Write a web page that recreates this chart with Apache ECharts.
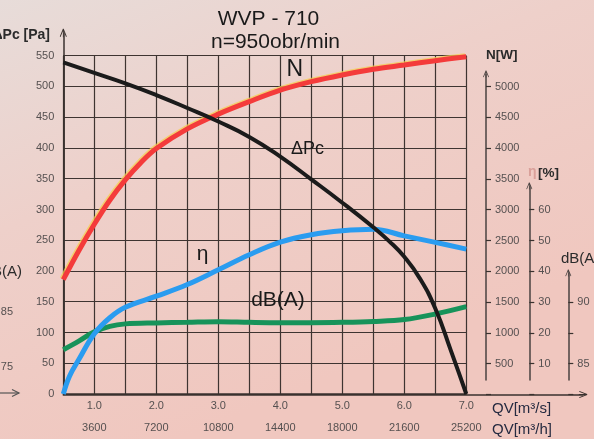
<!DOCTYPE html>
<html>
<head>
<meta charset="utf-8">
<script src="https://cdn.jsdelivr.net/npm/echarts@6/dist/echarts.min.js"></script>
<style>html,body{margin:0;padding:0;}#c{width:594px;height:439px;}</style>
</head>
<body>
<div id="c"></div>
<script>
// ---- data ----
const flowTicks = [1, 2, 3, 4, 5, 6, 7];
const flowLabels = ['1.0', '2.0', '3.0', '4.0', '5.0', '6.0', '7.0'];
const flowHourLabels = ['3600', '7200', '10800', '14400', '18000', '21600', '25200'];

const flowPc = [0.5, 1, 1.5, 2, 2.5, 3, 3.5, 4, 4.5, 5, 5.5, 5.75, 6, 6.25, 6.5, 6.75, 7];
const pressure = [539, 522, 505, 486, 465, 443, 418, 386, 349, 311, 271, 249, 223, 188, 139, 71, 0];

const flowN = [0.5, 0.75, 1, 1.25, 1.5, 1.75, 2, 2.5, 3, 3.5, 4, 4.5, 5, 5.5, 6, 6.5, 7];
const power = [1860, 2330, 2760, 3150, 3480, 3760, 3990, 4310, 4550, 4753, 4940, 5078, 5187, 5279, 5349, 5419, 5484];

const flowEta = [0.5, 0.6, 0.75, 1, 1.25, 1.5, 2, 2.5, 3, 3.5, 4, 4.5, 5, 5.5, 6, 6.5, 7];
const efficiency = [0, 5.8, 11.2, 19.6, 24.8, 28.2, 31.8, 35.6, 40.4, 45.3, 49.4, 51.8, 53.1, 53.6, 51.4, 49.3, 47.1];

const flowDb = [0.5, 0.75, 1, 1.25, 1.5, 2, 2.5, 3, 3.5, 4, 4.5, 5, 5.5, 6, 6.5, 7];
const noise = [86.1, 86.8, 87.55, 88.0, 88.2, 88.28, 88.33, 88.38, 88.33, 88.3, 88.3, 88.33, 88.4, 88.55, 89.0, 89.6];

// ---- chart ----
const chart = echarts.init(document.getElementById('c'), null, {renderer: 'canvas'});
const FONT = 'Liberation Sans, Arial, sans-serif';
const AX = '#3a322f';
const GRIDC = '#3e3431';
const LBL = '#555050';
const chevron = 'path://M4.4,0L5.6,0L10,11L8.9,11.6L5.6,3.6L5.6,12L4.4,12L4.4,3.6L1.1,11.6L0,11Z';

const zip = (xs, ys) => xs.map((x, i) => [x, ys[i]]);

function g(o) { return Object.assign({containLabel: false, show: false}, o); }
const quiet = {axisLine: {show: false, onZero: false}, axisTick: {show: false}, axisLabel: {show: false}, splitLine: {show: false}};
const hiddenAxis = (gi, min, max, extra) => Object.assign({type: 'value', gridIndex: gi, min: min, max: max}, quiet, extra || {});

const grids = [
  g({left: 63.3, right: 127.7, top: 55.7, bottom: 44.5}),            // 0 main plot
  g({left: 63.3, right: 127.7, top: 33, bottom: 44.5}),              // 1 Pa arrow
  g({left: 63.3, right: 11, top: 55.7, bottom: 44.5}),               // 2 x arrow
  g({left: 0, right: 108, top: 86.5, bottom: 44.5}),                 // 3 N ticks
  g({left: 0, right: 108, top: 74, bottom: 59}),                     // 4 N line
  g({left: 0, right: 64.7, top: 209.7, bottom: 44.5}),               // 5 eta ticks
  g({left: 0, right: 64.7, top: 186, bottom: 59}),                   // 6 eta line
  g({left: 0, right: 25.7, top: 302, bottom: 44.5}),                 // 7 dB ticks
  g({left: 0, right: 25.7, top: 273, bottom: 59})                    // 8 dB line
];

const xAxes = [
  {
    type: 'value', gridIndex: 0, min: 0.5, max: 7, interval: 0.5,
    axisLine: {show: true, onZero: false, lineStyle: {color: AX, width: 1.5}},
    axisTick: {show: false},
    splitLine: {show: true, lineStyle: {color: GRIDC, width: 1.2}},
    axisLabel: {
      margin: 1, color: LBL, fontSize: 11, lineHeight: 22, fontFamily: FONT,
      formatter: function (v) {
        const i = flowTicks.indexOf(v);
        return i < 0 ? '' : flowLabels[i] + '\n' + flowHourLabels[i];
      }
    }
  },
  hiddenAxis(1, 0, 1),
  {
    type: 'value', gridIndex: 2, min: 0, max: 1,
    axisLine: {show: true, onZero: false, symbol: ['none', chevron], symbolSize: [7, 14], lineStyle: {color: AX, width: 1.5}},
    axisTick: {show: false}, axisLabel: {show: false}, splitLine: {show: false}
  },
  hiddenAxis(3, 0, 1), hiddenAxis(4, 0, 1), hiddenAxis(5, 0, 1),
  hiddenAxis(6, 0, 1), hiddenAxis(7, 0, 1), hiddenAxis(8, 0, 1)
];

function tickAxis(gi, min, max, interval, show) {
  return {
    type: 'value', gridIndex: gi, position: 'right', min: min, max: max, interval: interval,
    axisLine: {show: false, onZero: false},
    axisTick: {show: true, length: 5, lineStyle: {color: AX, width: 1.2}},
    splitLine: {show: false},
    axisLabel: {margin: 9, color: LBL, fontSize: 11, fontFamily: FONT,
      formatter: function (v) { return show(v) ? String(v) : ''; }}
  };
}
function lineAxis(gi, size) {
  return {
    type: 'value', gridIndex: gi, position: 'right', min: 0, max: 1,
    axisLine: {show: true, onZero: false, symbol: ['none', chevron], symbolSize: size, lineStyle: {color: '#4a4240', width: 1.5}},
    axisTick: {show: false}, axisLabel: {show: false}, splitLine: {show: false}
  };
}

const yAxes = [
  { // 0 pressure (visible)
    type: 'value', gridIndex: 0, position: 'left', min: 0, max: 550, interval: 50,
    axisLine: {show: true, onZero: false, lineStyle: {color: AX, width: 1.5}},
    axisTick: {show: false},
    splitLine: {show: true, lineStyle: {color: GRIDC, width: 1.2}},
    axisLabel: {margin: 9, color: LBL, fontSize: 11, fontFamily: FONT}
  },
  hiddenAxis(0, 0, 5500, {position: 'right'}),     // 1 N scale
  hiddenAxis(0, 0, 110, {position: 'right'}),      // 2 eta scale
  hiddenAxis(0, 82.5, 110, {position: 'right'}),   // 3 dB scale
  { // 4 Pa arrow
    type: 'value', gridIndex: 1, min: 0, max: 1,
    axisLine: {show: true, onZero: false, symbol: ['none', chevron], symbolSize: [7, 11], lineStyle: {color: AX, width: 1.5}},
    axisTick: {show: false}, axisLabel: {show: false}, splitLine: {show: false}
  },
  hiddenAxis(2, 0, 1),                              // 5 for x-arrow grid
  tickAxis(3, 0, 5000, 500, v => v > 0),            // 6
  lineAxis(4, [6, 12]),                             // 7
  tickAxis(5, 0, 60, 10, v => v > 0),               // 8
  lineAxis(6, [6, 12]),                             // 9
  tickAxis(7, 82.5, 90, 2.5, v => v === 85 || v === 90), // 10
  lineAxis(8, [6, 12])                              // 11
];

function txt(text, x, y, font, fill, align) {
  return {
    type: 'text', x: x, y: y, silent: true, z: 10,
    style: {text: text, font: font, fill: fill, align: align || 'center', verticalAlign: 'middle'}
  };
}

const option = {
  animation: false,
  backgroundColor: {
    type: 'linear', x: 0, y: 0, x2: 0.3, y2: 1,
    colorStops: [
      {offset: 0, color: '#e7dcd9'},
      {offset: 0.45, color: '#eed0ca'},
      {offset: 1, color: '#f0c7bf'}
    ]
  },
  grid: grids,
  xAxis: xAxes,
  yAxis: yAxes,
  series: [
    {type: 'line', name: 'dB(A)', xAxisIndex: 0, yAxisIndex: 3, data: zip(flowDb, noise),
      smooth: 0.35, symbol: 'none', z: 2, lineStyle: {color: '#17935a', width: 5}},
    {type: 'line', name: 'η', xAxisIndex: 0, yAxisIndex: 2, data: zip(flowEta, efficiency),
      smooth: 0.4, symbol: 'none', z: 3, lineStyle: {color: '#2a9cf0', width: 5}},
    {type: 'line', name: 'N', xAxisIndex: 0, yAxisIndex: 1, data: zip(flowN, power),
      smooth: 0.35, symbol: 'none', z: 3, clip: false,
      lineStyle: {color: '#f43b3b', width: 5, shadowColor: 'rgba(245,205,80,0.75)', shadowOffsetX: -1.2, shadowOffsetY: -1}},
    {type: 'line', name: 'ΔPc', xAxisIndex: 0, yAxisIndex: 0, data: zip(flowPc, pressure),
      smooth: 0.5, symbol: 'none', z: 4, lineStyle: {color: '#1b1b1b', width: 4}}
  ],
  graphic: [
    txt('WVP - 710', 268.5, 19, '21px ' + FONT, '#1a1a1a'),
    txt('n=950obr/min', 275.5, 42, '21px ' + FONT, '#1a1a1a'),
    txt('ΔPc [Pa]', 50, 35, 'bold 14px ' + FONT, '#2b2b2b', 'right'),
    txt('N[W]', 486, 55, 'bold 13.5px ' + FONT, '#2b2b2b', 'left'),
    txt('η', 528, 172, 'bold 14px ' + FONT, '#d9a09a', 'left'),
    txt('[%]', 538, 173, 'bold 13.5px ' + FONT, '#2b2b2b', 'left'),
    txt('dB(A)', 561, 259, '15px ' + FONT, '#2b2b2b', 'left'),
    txt('QV[m³/s]', 492, 408.5, '15px ' + FONT, '#252a40', 'left'),
    txt('QV[m³/h]', 492, 430, '15px ' + FONT, '#252a40', 'left'),
    txt('N', 294.7, 70, '23px ' + FONT, '#1a1a1a'),
    txt('ΔPc', 307.5, 149.5, '18px ' + FONT, '#1a1a1a'),
    txt('η', 202.5, 254, '21px ' + FONT, '#1a1a1a'),
    txt('dB(A)', 278, 300, '21px ' + FONT, '#1a1a1a'),
    // fragments of the neighbouring chart at the left edge
    txt('dB(A)', 22, 272, '15px ' + FONT, '#2b2b2b', 'right'),
    txt('85', 13, 312, '11px ' + FONT, LBL, 'right'),
    txt('75', 13, 367, '11px ' + FONT, LBL, 'right'),
    {type: 'polyline', silent: true, z: 10, shape: {points: [[0, 393], [19, 393]]}, style: {stroke: '#555', lineWidth: 1.2, fill: null}},
    {type: 'polyline', silent: true, z: 10, shape: {points: [[12, 389.5], [19, 393], [12, 396.5]]}, style: {stroke: '#555', lineWidth: 1.2, fill: null}}
  ]
};
chart.setOption(option);
</script>
</body>
</html>
